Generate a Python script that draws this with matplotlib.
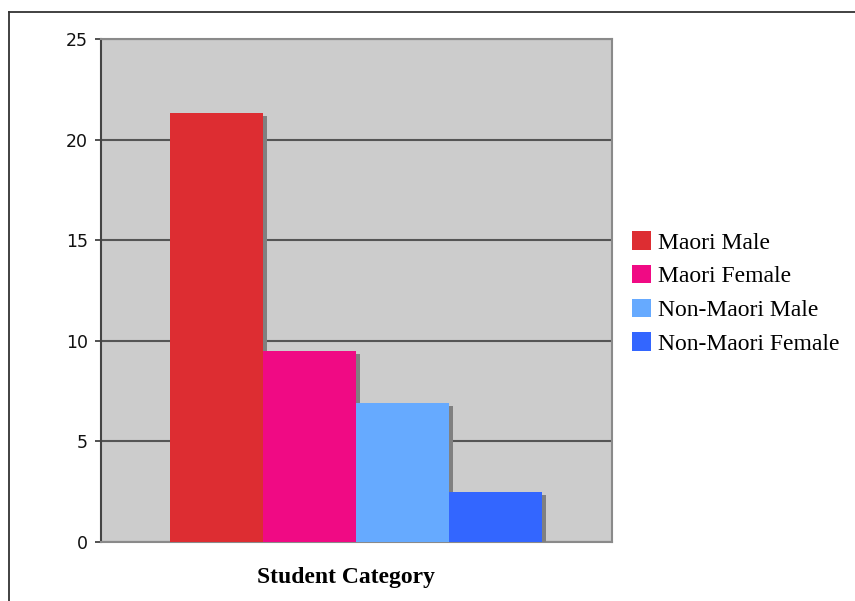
import numpy as np
import matplotlib.pyplot as plt
import matplotlib.patheffects as pe
from matplotlib.lines import Line2D
from matplotlib.patches import Patch

categories = ["Maori Male", "Maori Female", "Non-Maori Male", "Non-Maori Female"]
values = [21.3, 9.5, 6.9, 2.5]
colors = ["#DD2D32", "#F00A84", "#66AAFF", "#3366FF"]
yticks = [0, 5, 10, 15, 20, 25]

fig = plt.figure(figsize=(8.55, 6.01), dpi=100)
W, H = 855, 601

# plot area in pixel terms
left, right, top, bottom = 101, 612, 39, 542
ax = fig.add_axes([left / W, 1 - bottom / H, (right - left) / W, (bottom - top) / H])
ax.set_facecolor("#cccccc")

x = np.arange(len(values))
shadow = [pe.SimplePatchShadow(offset=(3, -2.2), shadow_rgbFace="#808080", alpha=1.0), pe.Normal()]
for xi, v, c, name in zip(x, values, colors, categories):
    ax.bar(xi, v, width=1.0, color=c, label=name, zorder=3, path_effects=shadow)

ax.set_xlim(-1.242, 4.253)
ax.set_ylim(0, 25)
ax.set_yticks(yticks)
ax.set_xticks([])
ax.yaxis.grid(True, color="#555555", linewidth=1.5, zorder=1)
ax.set_axisbelow(True)
ax.tick_params(axis="y", direction="out", length=4.5, width=1.2, color="#333333",
               pad=5, labelsize=12.5, labelcolor="#111111")

ax.spines["left"].set_color("#444444")
ax.spines["left"].set_linewidth(1.5)
for s in ["top", "right", "bottom"]:
    ax.spines[s].set_color("#8a8a8a")
    ax.spines[s].set_linewidth(1.5)

# legend on the right
handles = [Patch(facecolor=c, edgecolor="none") for c in colors]
fig.legend(handles, categories, loc="center left", bbox_to_anchor=(632 / W, 1 - 293 / H),
           frameon=False, prop={"family": "Liberation Serif", "size": 17},
           handlelength=0.82, handleheight=0.82, handletextpad=0.3, labelspacing=0.48,
           borderaxespad=0, borderpad=0)

fig.text(346 / W, 1 - 577 / H, "Student Category", ha="center", va="center",
         family="Liberation Serif", fontweight="bold", fontsize=17)

# outer frame, left and top edges
fig.add_artist(Line2D([9 / W, 9 / W], [0, 1 - 12 / H], color="#333333", linewidth=1.3))
fig.add_artist(Line2D([9 / W, 1], [1 - 12 / H, 1 - 12 / H], color="#333333", linewidth=1.3))

fig.savefig("out.png", dpi=100)
